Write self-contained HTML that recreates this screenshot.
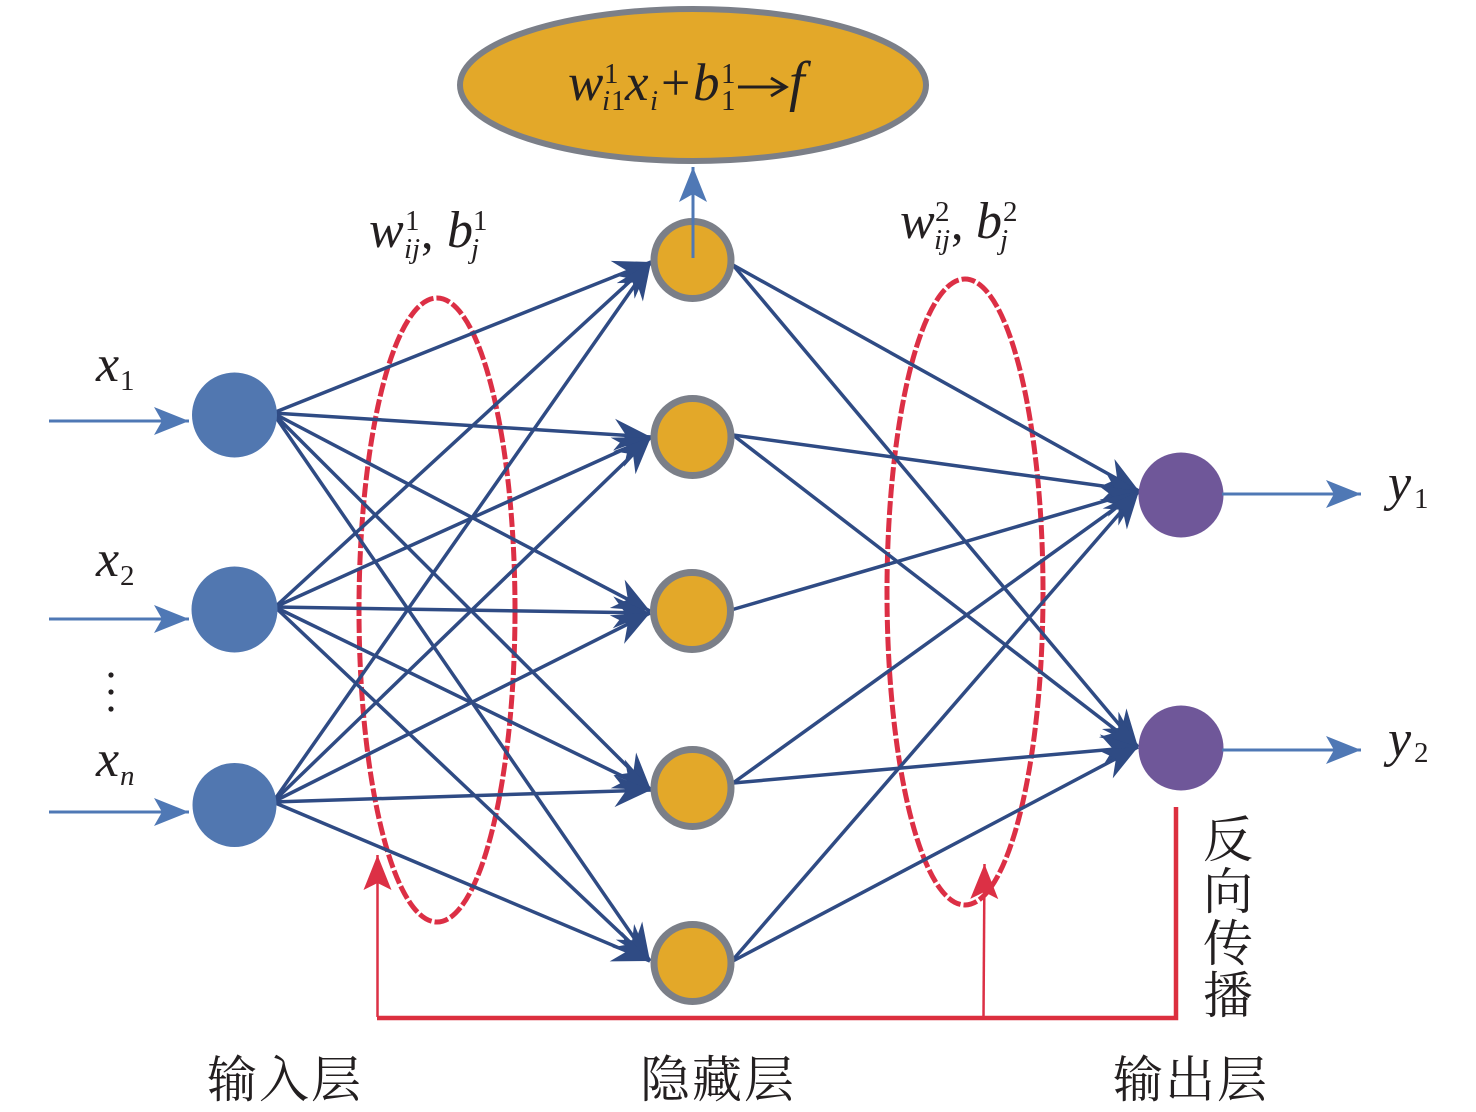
<!DOCTYPE html>
<html><head><meta charset="utf-8"><style>
html,body{margin:0;padding:0;background:#fff;width:1476px;height:1112px;overflow:hidden}
svg{display:block}
.m{font-family:"Liberation Serif",serif;font-style:italic;fill:#231f20}
.d{font-family:"Liberation Serif",serif;fill:#231f20}
.c{font-family:"Liberation Serif","Noto Serif CJK SC",serif;fill:#231f20;font-size:50px}
</style></head><body>
<svg width="1476" height="1112" viewBox="0 0 1476 1112" xmlns="http://www.w3.org/2000/svg">
<defs>
<marker id="n" markerUnits="userSpaceOnUse" markerWidth="40" markerHeight="38" refX="37" refY="19" orient="auto"><path d="M37 19L0 3L12 19L0 35Z" fill="#2f4b84"/></marker>
<marker id="b" markerUnits="userSpaceOnUse" markerWidth="40" markerHeight="32" refX="36" refY="16" orient="auto"><path d="M36 16L1 2L9 16L1 30Z" fill="#4f78b5"/></marker>
<marker id="r" markerUnits="userSpaceOnUse" markerWidth="40" markerHeight="32" refX="36" refY="16" orient="auto"><path d="M36 16L1 2L8 16L1 30Z" fill="#dc3045"/></marker>
</defs>

<!-- dashed ellipses -->
<g fill="none" stroke="#dc2f45" stroke-width="5" stroke-dasharray="14 3">
<ellipse cx="437" cy="610" rx="78" ry="312"/>
<ellipse cx="965" cy="592" rx="78" ry="313"/>
</g>

<!-- input to hidden -->
<g stroke="#2f4b84" stroke-width="3.5" fill="none">
<line x1="273" y1="413" x2="651" y2="262" marker-end="url(#n)"/>
<line x1="273" y1="413" x2="651" y2="437" marker-end="url(#n)"/>
<line x1="273" y1="413" x2="650" y2="611" marker-end="url(#n)"/>
<line x1="273" y1="413" x2="651" y2="790" marker-end="url(#n)"/>
<line x1="273" y1="413" x2="650" y2="961" marker-end="url(#n)"/>
<line x1="275" y1="607" x2="651" y2="262" marker-end="url(#n)"/>
<line x1="275" y1="607" x2="651" y2="437" marker-end="url(#n)"/>
<line x1="275" y1="607" x2="650" y2="613" marker-end="url(#n)"/>
<line x1="275" y1="607" x2="651" y2="790" marker-end="url(#n)"/>
<line x1="275" y1="607" x2="650" y2="961" marker-end="url(#n)"/>
<line x1="273" y1="802" x2="651" y2="262" marker-end="url(#n)"/>
<line x1="273" y1="802" x2="651" y2="437" marker-end="url(#n)"/>
<line x1="273" y1="802" x2="650" y2="613" marker-end="url(#n)"/>
<line x1="273" y1="802" x2="651" y2="790" marker-end="url(#n)"/>
<line x1="273" y1="802" x2="650" y2="961" marker-end="url(#n)"/>
<!-- hidden to output -->
<line x1="733" y1="265" x2="1139" y2="491" marker-end="url(#n)"/>
<line x1="733" y1="265" x2="1138" y2="747" marker-end="url(#n)"/>
<line x1="733" y1="435" x2="1139" y2="491" marker-end="url(#n)"/>
<line x1="733" y1="435" x2="1138" y2="747" marker-end="url(#n)"/>
<line x1="731" y1="610" x2="1139" y2="491" marker-end="url(#n)"/>
<line x1="733" y1="783" x2="1139" y2="491" marker-end="url(#n)"/>
<line x1="733" y1="783" x2="1138" y2="747" marker-end="url(#n)"/>
<line x1="731" y1="962" x2="1139" y2="491" marker-end="url(#n)"/>
<line x1="731" y1="962" x2="1138" y2="747" marker-end="url(#n)"/>
</g>

<!-- top ellipse -->
<ellipse cx="693" cy="85" rx="233" ry="76" fill="#e3a829" stroke="#7b7f88" stroke-width="6"/>

<!-- nodes -->
<g fill="#5177b0">
<circle cx="234.5" cy="415" r="42.5"/>
<circle cx="234.5" cy="609.5" r="43"/>
<circle cx="234.5" cy="805" r="42"/>
</g>
<g fill="#e3a829" stroke="#7b7f88" stroke-width="7">
<circle cx="692.5" cy="260" r="38.500"/>
<circle cx="692.5" cy="437" r="38.500"/>
<circle cx="692" cy="611" r="38.500"/>
<circle cx="692.5" cy="788" r="38.500"/>
<circle cx="692.5" cy="963" r="38.500"/>
</g>
<g fill="#6f5799">
<circle cx="1181" cy="495" r="42.5"/>
<circle cx="1181" cy="748" r="42.5"/>
</g>

<!-- blue arrows -->
<g stroke="#4f78b5" stroke-width="3" fill="none">
<line x1="49" y1="421" x2="189" y2="421" marker-end="url(#b)"/>
<line x1="49" y1="619" x2="189" y2="619" marker-end="url(#b)"/>
<line x1="49" y1="812" x2="189" y2="812" marker-end="url(#b)"/>
<line x1="1222" y1="494" x2="1361" y2="494" marker-end="url(#b)"/>
<line x1="1222" y1="750" x2="1361" y2="750" marker-end="url(#b)"/>
<line x1="693" y1="258" x2="693" y2="167" marker-end="url(#b)"/>
</g>

<!-- red feedback -->
<path d="M1176 807V1018H377" fill="none" stroke="#dc2f3f" stroke-width="4.5"/>
<line x1="377.500" y1="1017" x2="377.500" y2="855" stroke="#dc3045" stroke-width="2.500" marker-end="url(#r)"/>
<line x1="983.500" y1="1017" x2="984.500" y2="864" stroke="#dc3045" stroke-width="2.500" marker-end="url(#r)"/>

<!-- dots -->
<g fill="#231f20"><circle cx="111" cy="675" r="2.600"/><circle cx="111" cy="692" r="2.600"/><circle cx="111" cy="709" r="2.600"/></g>

<!-- formula -->
<text class="m" x="568" y="100" font-size="53">w</text>
<text class="d" x="604" y="83" font-size="29">1</text>
<text class="m" x="602" y="110" font-size="29">i</text><text class="d" x="611" y="110" font-size="29">1</text>
<text class="m" x="625" y="100" font-size="53">x</text>
<text class="m" x="650" y="110" font-size="29">i</text>
<text class="d" x="661" y="100" font-size="52">+</text>
<text class="m" x="693" y="100" font-size="53">b</text>
<text class="d" x="721" y="83" font-size="29">1</text>
<text class="d" x="721" y="110" font-size="29">1</text>
<path d="M738 87H784M771 78L786 87L771 96" fill="none" stroke="#231f20" stroke-width="3"/>
<text class="m" x="789" y="100" font-size="56">f</text>

<!-- w b labels -->
<text class="m" x="369" y="247" font-size="52">w</text>
<text class="d" x="405" y="230" font-size="29">1</text>
<text class="m" x="404" y="258" font-size="29">ij</text>
<text class="d" x="421" y="248" font-size="50">,</text>
<text class="m" x="447" y="247" font-size="52">b</text>
<text class="d" x="473" y="230" font-size="29">1</text>
<text class="m" x="471" y="258" font-size="29">j</text>

<text class="m" x="900" y="238" font-size="52">w</text>
<text class="d" x="935" y="221" font-size="29">2</text>
<text class="m" x="934" y="249" font-size="29">ij</text>
<text class="d" x="951" y="239" font-size="50">,</text>
<text class="m" x="976" y="238" font-size="52">b</text>
<text class="d" x="1003" y="221" font-size="29">2</text>
<text class="m" x="1000" y="249" font-size="29">j</text>

<!-- x labels -->
<text class="m" x="96" y="381" font-size="52">x</text><text class="d" x="120" y="390" font-size="29">1</text>
<text class="m" x="96" y="576" font-size="52">x</text><text class="d" x="120" y="585" font-size="29">2</text>
<text class="m" x="96" y="776" font-size="52">x</text><text class="m" x="120" y="785" font-size="29">n</text>

<!-- y labels -->
<text class="m" x="1388" y="500" font-size="52">y</text><text class="d" x="1414" y="508" font-size="29">1</text>
<text class="m" x="1388" y="756" font-size="52">y</text><text class="d" x="1414" y="762" font-size="29">2</text>

<!-- CJK -->
<text class="c" x="207" y="1097" textLength="154" lengthAdjust="spacing">输入层</text>
<text class="c" x="640" y="1097" textLength="154" lengthAdjust="spacing">隐藏层</text>
<text class="c" x="1113" y="1097" textLength="154" lengthAdjust="spacing">输出层</text>
<text class="c" x="1203" y="857">反</text>
<text class="c" x="1203" y="909">向</text>
<text class="c" x="1203" y="961">传</text>
<text class="c" x="1203" y="1013">播</text>
</svg>
</body></html>
